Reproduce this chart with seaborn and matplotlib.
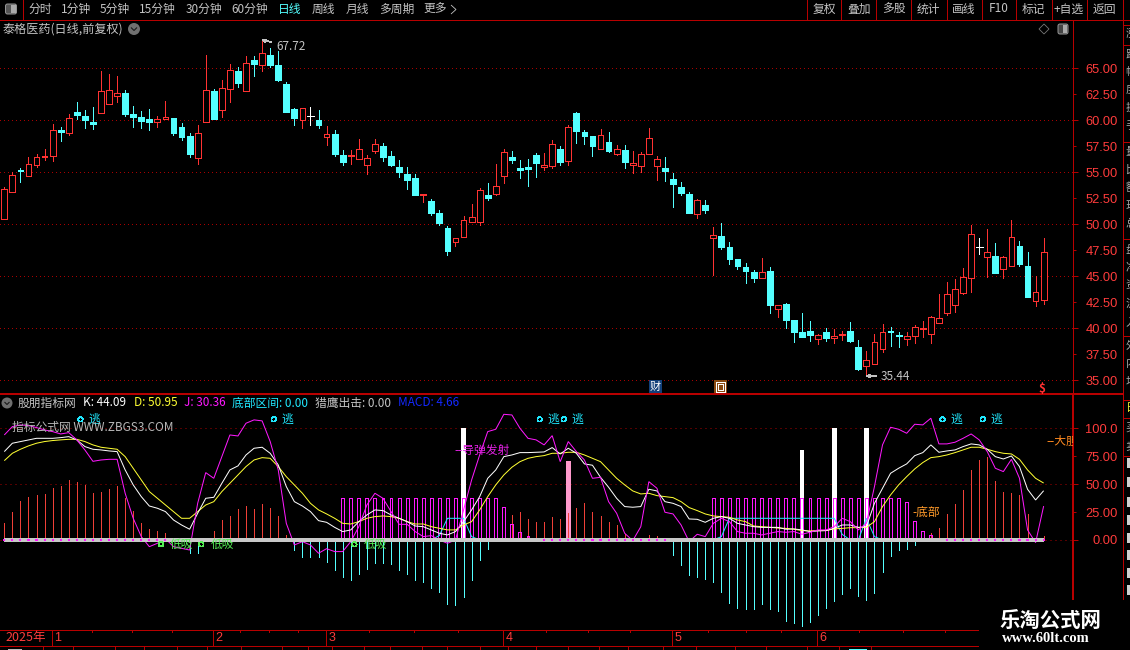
import matplotlib
matplotlib.use("Agg")
import matplotlib.pyplot as plt
from matplotlib.patches import Rectangle, FancyBboxPatch, Circle, Polygon
import numpy as np
import seaborn as sns

# ------------------------------------------------------------------ data
opens = [50.54,53.14,55.2,54.68,55.74,56.44,56.6,59.07,58.81,60.8,60.42,59.84,60.74,61.6,62.37,62.63,60.61,60.32,60.16,59.87,
         60.1,60.22,59.36,58.49,56.41,59.87,62.82,61.03,63.04,64.74,62.85,65.8,65.35,66.28,65.32,63.49,61.09,60.0,60.38,60.03,
         58.43,58.69,56.67,56.54,56.31,55.74,57.08,57.53,56.57,55.51,54.84,54.45,52.85,52.24,51.09,49.65,48.33,48.81,50.26,50.26,
         52.82,52.95,54.68,56.47,55.42,55.51,56.67,55.51,55.64,57.24,56.12,60.71,58.88,58.49,57.28,57.92,56.79,57.15,55.67,55.64,
         56.73,55.64,55.42,54.36,53.59,52.92,51.03,51.86,48.72,48.88,47.82,46.67,45.9,45.42,44.81,45.51,41.83,42.34,40.8,39.65,
         39.74,39.01,39.65,39.04,39.33,39.74,38.21,36.35,36.54,37.98,39.74,39.36,39.01,39.23,39.94,39.49,40.54,41.51,42.28,43.43,
         44.87,47.85,46.89,46.96,45.74,46.03,47.92,45.99,42.66,42.76]
closes = [53.37,54.74,55.13,55.77,56.44,56.57,59.04,58.91,60.19,60.51,60.06,59.68,62.79,62.88,62.6,60.61,60.32,59.97,59.84,60.1,
          60.32,58.78,58.43,56.76,58.75,62.88,60.13,63.08,64.81,63.59,65.48,65.42,66.44,65.32,63.88,60.8,60.22,61.15,60.38,59.55,
          58.65,56.76,55.99,56.63,57.21,56.35,57.69,56.51,55.71,55.03,54.26,52.82,52.92,51.09,50.13,47.44,48.65,50.38,50.67,53.27,
          52.56,53.65,56.92,56.19,55.22,55.32,55.9,55.67,57.69,55.99,59.33,58.97,58.49,57.53,58.56,57.05,57.21,55.99,55.87,56.73,
          58.27,56.25,55.13,53.88,52.98,51.09,52.31,51.38,48.97,47.82,46.67,45.99,45.51,44.84,45.38,42.24,42.21,40.8,39.65,39.17,
          39.36,39.33,39.07,39.23,39.42,38.78,36.09,36.92,38.65,39.62,39.65,39.26,39.23,40.13,40.0,41.06,40.96,43.27,43.75,44.9,
          49.04,47.85,47.31,45.32,46.83,48.75,46.19,43.01,43.46,47.31]
highs = [53.62,55.0,55.45,56.44,56.76,57.24,59.62,59.36,60.61,61.76,61.0,61.28,64.74,64.46,64.26,62.92,61.35,60.87,61.09,60.42,
         61.86,60.22,59.71,58.75,59.55,66.28,63.01,63.88,65.42,65.13,66.19,66.19,67.72,66.96,66.67,63.72,61.19,61.15,61.28,61.0,
         59.46,59.07,57.15,57.15,58.17,56.67,58.17,57.79,57.02,56.19,55.51,54.84,52.92,52.44,51.38,49.84,48.65,50.8,51.96,53.46,
         53.97,55.8,57.21,57.05,56.19,56.28,56.83,56.86,58.11,57.53,59.52,60.8,59.07,58.49,59.17,58.88,57.63,57.63,57.05,56.96,
         59.26,56.57,56.47,54.94,54.07,53.11,52.4,52.34,49.74,50.13,48.3,46.67,46.28,45.61,46.76,45.9,42.21,42.44,40.8,41.47,
         40.71,39.46,40.03,39.94,39.74,40.61,38.88,37.82,39.46,40.42,40.13,39.65,39.65,40.32,40.71,41.19,43.3,44.46,44.74,45.8,
         49.94,48.69,49.55,48.21,46.96,50.42,48.4,47.34,45.03,48.69]
lows = [50.54,53.14,54.07,54.62,55.55,56.19,56.09,58.01,58.59,60.13,59.26,59.17,60.74,61.6,61.76,60.42,59.36,59.26,59.07,59.36,
        60.1,58.59,58.11,56.5,55.8,59.87,60.13,60.32,61.76,63.21,62.85,64.26,64.74,65.16,63.78,60.8,59.55,59.26,59.55,59.26,
        57.63,56.57,55.71,55.8,56.31,54.84,56.89,56.09,55.61,54.58,53.4,52.82,52.18,50.9,49.94,47.05,47.92,48.81,50.26,49.97,
        52.34,52.82,53.97,55.9,54.45,53.69,54.55,55.22,55.42,55.71,55.71,57.82,57.72,56.57,57.28,56.96,56.67,55.42,54.97,55.03,
        56.73,54.26,54.17,51.67,52.82,51.09,50.61,51.09,45.13,47.63,46.19,45.71,44.36,44.46,44.81,41.47,41.09,40.03,38.69,39.17,
        38.78,38.49,38.78,38.59,38.88,38.69,35.99,35.44,36.54,37.72,38.3,38.21,38.4,38.59,39.17,38.59,40.54,41.28,41.57,43.3,
        43.49,47.15,44.94,45.32,44.87,46.03,45.99,43.01,42.15,42.34]

k_values = [79.1,86.6,88.1,89.6,91.0,91.0,91.0,91.6,92.5,89.6,83.6,81.2,80.6,79.7,79.1,62.7,49.3,38.8,30.4,28.4,
            25.4,17.9,13.4,9.6,23.9,37.3,38.2,50.7,62.7,66.3,76.1,82.1,83.0,77.6,67.2,47.8,34.3,30.4,25.4,17.3,
            15.8,11.3,7.5,9.0,16.4,22.4,26.9,26.3,22.4,19.4,16.4,12.5,11.9,9.0,6.0,4.5,7.5,16.4,26.9,38.8,
            55.2,62.7,74.6,76.1,78.2,78.2,78.5,78.8,82.7,77.0,82.1,77.6,68.1,66.9,56.1,47.2,37.3,29.9,29.3,29.9,
            45.4,43.9,34.3,32.8,29.9,18.8,18.5,15.8,19.4,20.9,19.4,14.9,13.4,11.9,11.3,11.3,11.3,9.6,9.9,9.0,
            7.5,8.1,8.4,10.4,13.4,13.4,11.3,11.9,32.8,46.3,59.7,64.2,68.1,75.5,78.2,85.1,78.5,79.7,80.6,83.6,
            86.0,85.1,81.2,74.6,72.5,75.2,65.7,45.4,35.8,44.09]
d_values = [71.0,77.6,81.2,84.2,86.6,88.1,89.0,89.6,90.1,90.1,88.1,85.1,83.0,82.1,81.2,74.6,64.2,53.7,43.3,37.3,
            31.3,25.4,19.4,19.4,25.4,31.3,34.3,43.3,50.7,58.2,65.7,71.6,73.7,73.1,65.7,56.7,49.3,41.8,32.8,26.9,
            23.3,19.4,14.9,14.3,16.4,19.4,20.9,21.5,20.9,19.4,16.4,14.3,14.3,11.9,10.4,9.0,9.0,13.4,16.4,26.9,
            38.8,49.3,58.2,65.1,70.1,73.1,74.6,75.5,77.6,77.6,78.5,78.5,76.1,73.1,70.1,62.7,55.2,49.3,43.9,41.2,
            41.8,39.7,38.8,37.9,34.3,29.0,26.3,23.3,21.5,20.9,20.3,17.9,16.4,12.5,11.9,11.3,10.7,10.4,9.6,8.4,
            8.1,8.4,8.4,9.9,10.4,11.0,11.0,11.3,16.4,29.9,40.3,49.3,56.7,63.6,69.3,73.7,74.6,76.1,78.2,80.6,
            83.0,83.0,81.2,79.1,77.6,77.0,72.2,62.7,55.2,50.95]
j_values = [94.0,101.5,103.0,102.4,100.6,98.5,97.0,94.9,96.1,89.6,80.6,70.4,71.6,72.2,72.2,41.8,19.4,3.0,-6.0,-3.0,
            1.2,-6.0,-7.5,-9.0,32.8,60.3,55.2,74.6,94.0,93.1,104.5,107.5,106.6,88.1,62.7,14.9,-4.5,-1.5,-4.5,-11.9,
            -7.8,-10.4,-10.4,-1.5,11.9,31.3,41.8,37.3,25.4,14.0,14.0,7.5,3.0,3.9,0.0,-3.0,0.0,26.9,53.7,76.1,
            97.0,99.1,112.5,111.9,100.0,91.0,89.6,85.1,93.4,70.1,88.1,79.1,71.6,55.2,56.1,34.3,23.9,6.0,-0.6,11.9,
            52.2,46.3,24.8,23.3,13.4,-1.5,5.1,3.0,14.9,19.4,16.4,7.5,6.0,6.0,4.5,6.0,7.5,6.9,7.5,5.1,
            6.9,9.0,9.0,11.9,19.4,16.4,9.0,14.9,47.8,85.1,100.9,99.1,95.5,103.6,103.0,109.0,86.0,86.0,87.5,91.0,
            94.9,89.6,79.1,64.2,61.2,72.2,55.2,9.0,-2.4,30.36]
macd_sticks = [14.9,25.1,34.9,38.5,40.3,41.2,46.6,48.4,53.7,51.9,49.3,42.1,43.0,45.7,48.4,37.6,26.0,15.2,9.9,8.1,
               6.3,0.5,-0.5,-11.3,-11.3,0.5,8.1,17.9,21.5,27.8,30.4,27.8,32.2,28.7,21.5,4.5,-9.0,-14.9,-14.9,-14.9,
               -19.7,-26.9,-32.8,-35.8,-30.4,-26.0,-20.6,-20.6,-21.5,-26.9,-30.4,-35.8,-37.6,-43.0,-46.6,-57.3,-58.2,-51.0,-35.8,-17.9,
               -8.1,-0.5,0.5,22.4,25.1,18.8,16.1,16.1,20.6,18.8,23.9,28.7,33.1,25.1,21.5,16.1,13.4,5.4,0.0,0.0,
               4.5,3.6,0.3,-13.4,-22.4,-31.3,-33.1,-34.9,-37.6,-46.6,-56.4,-60.9,-61.8,-61.8,-57.3,-61.8,-63.6,-72.5,-74.3,-77.0,
               -73.4,-67.2,-60.9,-54.6,-48.4,-43.0,-50.1,-53.7,-47.5,-28.7,-14.3,-9.0,-8.1,-4.5,0.0,6.0,10.7,23.3,32.2,44.8,
               62.7,71.6,74.3,52.8,43.0,42.1,40.3,23.3,0.0,3.6]
box_days = [42,43,44,45,46,47,48,49,50,51,52,53,54,55,56,57,58,59,60,61,62,63,64,65,66,
            88,89,90,91,92,93,94,95,96,97,98,99,100,101,102,103,104,105,106,107,108,109,110,111,112,113,114,115,116]
box_tops = [37.3,37.3,37.3,37.3,37.3,37.3,37.3,37.3,37.3,37.3,37.3,37.3,37.3,37.3,37.3,37.3,37.3,37.3,37.3,37.3,29.3,14.3,7.2,3.6,1.8,
            37.3,37.3,37.3,37.3,37.3,37.3,37.3,37.3,37.3,37.3,37.3,37.3,37.3,37.3,37.3,37.3,37.3,37.3,37.3,37.3,37.3,37.3,37.3,37.3,33.7,16.7,7.8,4.2,1.5]
dash_days = [0,1,2,3,4,5,6,7,8,9,10,11,12,13,14,15,16,17,18,19,20,67,68,69,70,71,72,73,74,75,76,77,78,79,80,81,82,
             117,118,119,120,121,122,123,124,125,126,127,128,129]
white_days = [57,99,103,107]
white_tops = [100.3,80.6,100.0,100.0]
pink_days = [70]
pink_tops = [70.7]
zone_days = [53,54,55,56,57,58,59,88,89,90,91,92,93,94,95,96,97,98,99,100,101,102,103,104,105,106,107,108,109]
zone_vals = [0.0,4.0,19.4,19.4,19.4,3.0,0.0,0.0,3.0,19.4,19.4,19.4,19.4,19.4,19.4,19.4,19.4,19.4,19.4,19.4,19.4,19.4,19.4,5.0,0.0,0.0,19.4,3.0,0.0]
escape_days = [9,33,66,69,116,121]
buy_days = [19,24,43]
price_ticks = [35,37.5,40,42.5,45,47.5,50,52.5,55,57.5,60,62.5,65]
kdj_ticks = [0,25,50,75,100]
month_labels = ["1","2","3","4","5","6"]
month_days = [6,26,40,62,83,101]
week_days = [10.85,15.9,20.85,29.3,32.9,36.4,45.3,50.9,56.3,67.2,72.4,77.7,87.4,92,96.4,106.1,111.5,116.7]
left_menu = [("分时",28,"#c4c4c4"),("1分钟",61,"#c4c4c4"),("5分钟",100,"#c4c4c4"),("15分钟",139,"#c4c4c4"),("30分钟",186,"#c4c4c4"),
             ("60分钟",231,"#c4c4c4"),("日线",278,"#54ffff"),("周线",312,"#c4c4c4"),("月线",346,"#c4c4c4"),("多周期",379,"#c4c4c4"),("更多",423,"#c4c4c4")]
right_menu = [("复权",813),("叠加",847),("多股",882),("统计",917),("画线",952),("F10",989),("标记",1022),("+自选",1054),("返回",1093)]

# ------------------------------------------------------------------ style
W, H = 1130, 650
sns.set_theme(style="dark", rc={
    "figure.facecolor": "black", "axes.facecolor": "black", "savefig.facecolor": "black",
    "lines.antialiased": False, "patch.antialiased": False, "axes.grid": False,
    "lines.solid_capstyle": "butt", "lines.solid_joinstyle": "miter",
})
plt.rcParams["font.family"] = ["Noto Sans CJK SC", "DejaVu Sans"]

RED = "#ff3232"; CYAN = "#54ffff"; AXIS = "#b80000"; GRID = "#a80000"; MAG = "#ff19ff"; GRAY = "#c4c4c4"
THIN = 0.7
CURVE = dict(linewidth=0.72, antialiased=True, ax=None, estimator=None, legend=False)
DOT = (0, (1, 4))
fig = plt.figure(figsize=(W / 100, H / 100), dpi=100)

def add_axes(l, t, r, b):
    return fig.add_axes([l / W, 1 - b / H, (r - l) / W, (b - t) / H])

X0, STEP = 4.3, 8.057
XLIM = (-X0 / STEP, (1073 - X0) / STEP)
days = np.arange(len(closes))
o, c, h, l = map(np.array, (opens, closes, highs, lows))

# ------------------------------------------------------------------ price panel
ax = add_axes(0, 20, 1073, 394)
ax.set_xlim(*XLIM); ax.set_ylim(33.69, 69.65)
for v in price_ticks:
    if v % 5 == 0:
        ax.axhline(v, color=GRID, lw=THIN, ls=DOT, zorder=1)
up = c > o; down = c < o; doji = c == o
ax.vlines(days[up], l[up], h[up], color=RED, lw=THIN, zorder=2, antialiased=False)
ax.vlines(days[down], l[down], h[down], color=CYAN, lw=THIN, zorder=2, antialiased=False)
ax.vlines(days[doji], l[doji], h[doji], color="white", lw=THIN, zorder=2, antialiased=False)
ax.bar(days[up], (c - o)[up], bottom=o[up], width=0.72, facecolor="black", edgecolor=RED, linewidth=THIN, zorder=3)
ax.bar(days[down], (c - o)[down], bottom=o[down], width=0.72, facecolor=CYAN, edgecolor=CYAN, linewidth=THIN, zorder=3)
ax.hlines(o[doji], days[doji] - 0.42, days[doji] + 0.42, color="white", lw=THIN, zorder=3, antialiased=False)
hi = int(np.argmax(h)); lo = int(np.argmin(l))
ax.annotate(f"{h[hi]:.2f}", xy=(hi, h[hi]), xytext=(14, -6), textcoords="offset pixels", color=GRAY, fontsize=8.5, va="center",
            arrowprops=dict(arrowstyle="->", color=GRAY, lw=0.6, shrinkA=1, shrinkB=0, mutation_scale=5), zorder=6)
ax.annotate(f"{l[lo]:.2f}", xy=(lo, l[lo]), xytext=(14, -1), textcoords="offset pixels", color=GRAY, fontsize=8.5, va="center",
            arrowprops=dict(arrowstyle="->", color=GRAY, lw=0.6, shrinkA=1, shrinkB=0, mutation_scale=5), zorder=6)
ax.set_xticks([])
ax.set_yticks(price_ticks)
ax.set_yticklabels([f"{v:.2f}" for v in price_ticks])

# ------------------------------------------------------------------ indicator panel
ax2 = add_axes(0, 394.3, 1073, 630)
ax2.set_xlim(*XLIM); ax2.set_ylim(-80.6, 130.4)
CURVE["ax"] = ax2
for v in (0, 50, 100):
    ax2.axhline(v, color=GRID, lw=THIN, ls=DOT, zorder=1)
ax2.bar(white_days, white_tops, width=0.58, color="white", linewidth=0, zorder=2)
ax2.bar(pink_days, pink_tops, width=0.58, color="#ff99cc", linewidth=0, zorder=2)
m = np.array(macd_sticks)
ax2.vlines(days[m > 0], 0, m[m > 0], color="#f04038", lw=THIN, zorder=2.5, antialiased=False)
ax2.vlines(days[m < 0], m[m < 0], 0, color=CYAN, lw=THIN, zorder=2.5, antialiased=False)
ax2.bar(box_days, box_tops, width=0.36, fill=False, edgecolor=MAG, linewidth=THIN, zorder=3)
sns.lineplot(x=zone_days[:7], y=zone_vals[:7], color="#20e8ff", zorder=3.5, **CURVE)
sns.lineplot(x=zone_days[7:], y=zone_vals[7:], color="#20e8ff", zorder=3.5, **CURVE)
sns.lineplot(x=days, y=d_values, color="#ffff33", zorder=4, **CURVE)
sns.lineplot(x=days, y=k_values, color="white", zorder=4.1, **CURVE)
sns.lineplot(x=days, y=j_values, color=MAG, zorder=4.2, **CURVE)
for line in ax2.get_lines():
    line.set_linewidth(0.72)
    line.set_antialiased(True)
ax2.hlines(0, 0, days[-1], color="#c8c8c8", lw=1.5, zorder=5, antialiased=False)
ax2.hlines([0] * len(dash_days), np.array(dash_days) - 0.13, np.array(dash_days) + 0.13, color=MAG, lw=1.44, zorder=6, antialiased=False)

sns.scatterplot(x=[d + 0.45 for d in escape_days], y=[108] * len(escape_days), s=11, facecolor="none", edgecolor="#20e8ff",
                linewidth=0.5, ax=ax2, legend=False, zorder=6, clip_on=False)
sns.scatterplot(x=[d + 0.45 for d in buy_days], y=[-3.9] * len(buy_days), s=11, facecolor="none", edgecolor="#55ee55",
                linewidth=0.5, ax=ax2, legend=False, zorder=6)
for d in escape_days:
    ax2.annotate("逃", xy=(d, 108), xytext=(11.5, 0), textcoords="offset pixels", color="#20e8ff", fontsize=8.5, va="center", zorder=6)
for d in buy_days:
    ax2.annotate("低吸", xy=(d, -3.9), xytext=(12.6, 0), textcoords="offset pixels", color="#55ee55", fontsize=8.5, va="center", zorder=6)
ax2.annotate("--导弹发射", xy=(57, 80.6), xytext=(-9, 0), textcoords="offset pixels", color="#e020e0", fontsize=8.5, va="center", zorder=6)
ax2.annotate("-底部", xy=(113, 24.5), xytext=(-2, 0), textcoords="offset pixels", color="#ff9a2a", fontsize=8.5, va="center", zorder=6)
ax2.annotate("--大胆", xy=(129, 88.7), xytext=(3, 0), textcoords="offset pixels", color="#ff8a20", fontsize=8.5, va="center",
             zorder=6, clip_on=True)
ax2.set_xlabel(""); ax2.set_ylabel("")
ax2.set_xticks([])
ax2.set_yticks(kdj_ticks)
ax2.set_yticklabels([f"{v:.2f}" if v < 100 else "100.0" for v in kdj_ticks])

for a, long_vals, color_lw in ((ax, {35, 40, 45, 50, 55, 60, 65}, THIN), (ax2, {0, 50, 100}, 1.44)):
    for s in ("left", "top", "bottom"):
        a.spines[s].set_visible(False)
    a.spines["right"].set_visible(True)
    a.spines["right"].set_color(AXIS)
    a.spines["right"].set_linewidth(color_lw)
    a.yaxis.tick_right()
    a.tick_params(axis="y", right=True, length=3.6, width=THIN, color=AXIS, labelcolor="#ff3c3c", pad=28.6, labelsize=9.3)
    for t, v in zip(a.yaxis.get_major_ticks(), a.get_yticks()):
        if v not in long_vals:
            t.tick2line.set_markersize(1.8)
        t.label2.set_ha("right")
        t.label2.set_fontfamily("Liberation Sans")

# ------------------------------------------------------------------ date band
ax3 = add_axes(0, 630.3, 978, 646.3)
ax3.set_xlim(XLIM[0], (978 - X0) / STEP); ax3.set_ylim(0, 1)
for s in ("left", "right"):
    ax3.spines[s].set_visible(False)
for s in ("top", "bottom"):
    ax3.spines[s].set_color(AXIS); ax3.spines[s].set_linewidth(THIN); ax3.spines[s].set_visible(True)
ax3.set_xticks([]); ax3.set_yticks([])
for d, lab in zip(month_days, month_labels):
    ax3.axvline(d - 0.1, color=AXIS, lw=THIN, antialiased=False)
    ax3.annotate(lab, xy=(d - 0.1, 0.5), xytext=(2.5, 0), textcoords="offset pixels", color="#ff3c3c", fontsize=9, va="center",
                 family="Liberation Sans")
ax3.vlines(week_days, 0.87, 1, color=AXIS, lw=THIN, antialiased=False)

# ------------------------------------------------------------------ screen chrome, in pixels
ov = fig.add_axes([0, 0, 1, 1], zorder=20)
ov.set_xlim(0, W); ov.set_ylim(H, 0); ov.axis("off"); ov.patch.set_alpha(0)

def txt(x, y, s, color=GRAY, size=8.5, ha="left", **kw):
    ov.text(x, y, s, color=color, fontsize=size, ha=ha, va="center", **kw)

txt(5, 638, "2025年", color="#ff3c3c", size=9)
ov.hlines(19.5, 0, W, color=AXIS, lw=THIN, antialiased=False)
ov.vlines(23, 0, 19.5, color=AXIS, lw=THIN, antialiased=False)
ov.add_patch(FancyBboxPatch((5.5, 4), 11, 10, boxstyle="round,pad=0,rounding_size=2", fc="#555555", ec="#999999", lw=THIN, antialiased=True))
ov.add_patch(Rectangle((11, 5), 5, 8, fc="#aaaaaa", ec="none"))
for s, x, col in left_menu:
    txt(x, 9, s, color=col)
ov.plot([451, 456, 451], [5, 9.5, 14], color=GRAY, lw=0.6, antialiased=True)
for x in (807, 841, 876, 911, 946.5, 981.5, 1016, 1052, 1086.6, 1123):
    ov.vlines(x, 0, 19.5, color=AXIS, lw=THIN, antialiased=False)
for s, x in right_menu:
    txt(x, 9, s)

txt(2.5, 29, "泰格医药(日线,前复权)", size=8.7)
ov.add_patch(Circle((134, 29), 6, fc="#707070", ec="none", antialiased=True))
ov.plot([131, 134, 137], [27.5, 30.5, 27.5], color="#1a1a1a", lw=0.8, antialiased=True)
ov.add_patch(Polygon([(1044, 24), (1049, 29), (1044, 34), (1039, 29)], closed=True, fill=False, ec="#777777", lw=0.6, antialiased=True))
ov.add_patch(FancyBboxPatch((1058, 24), 10, 10, boxstyle="round,pad=0,rounding_size=2", fc="#444444", ec="#999999", lw=THIN, antialiased=True))
ov.add_patch(Rectangle((1063, 25), 4, 8, fc="#aaaaaa", ec="none"))

# event badges
ov.add_patch(Rectangle((649, 380), 13, 13.5, fc="#12407a", ec="none"))
txt(655.5, 387, "财", color="white", size=8, ha="center")
ov.add_patch(Rectangle((714, 380), 13, 13.5, fc="#8a4a10", ec="none"))
ov.add_patch(Rectangle((716, 382), 9, 9.5, fc="none", ec="white", lw=THIN))
ov.add_patch(Rectangle((718, 384), 5, 5.5, fc="#8a4a10", ec="white", lw=THIN))
txt(1042, 388.5, "$", color=RED, size=8.5, ha="center", fontweight="bold")

# panel separators
ov.hlines(394.4, 0, 1123, color=AXIS, lw=1.44, antialiased=False)
ov.vlines(1123, 0, 599, color=AXIS, lw=THIN, antialiased=False)
for y in (25, 45, 142, 239, 336, 400, 418, 456):
    ov.hlines(y, 1123, W, color=AXIS, lw=THIN, antialiased=False)
# header of the indicator
ov.add_patch(Circle((7, 403), 5.5, fc="#707070", ec="none", antialiased=True))
ov.plot([4.5, 7, 9.5], [402, 404.5, 402], color="#1a1a1a", lw=0.8, antialiased=True)
txt(18, 403, "股朋指标网")
txt(83, 403, "K: 44.09", color="white")
txt(134, 403, "D: 50.95", color="#ffff33")
txt(184, 403, "J: 30.36", color=MAG)
txt(232, 403, "底部区间: 0.00", color="#20e8ff")
txt(315, 403, "猎鹰出击: 0.00")
txt(398, 403, "MACD: 4.66", color="#1428ff")
txt(12.5, 427, "指标公式网 WWW.ZBGS3.COM", color="#b8b8b8")

# clipped side column
side = [(34, "涨"), (54, "跌"), (72, "幅"), (90, "度"), (108, "换"), (126, "手"), (152, "量"), (170, "比"), (188, "额"), (206, "现"),
        (224, "总"), (250, "盘"), (268, "净"), (286, "资"), (304, "流"), (322, "入"), (346, "外"), (364, "内"), (382, "均"), (428, "买"), (446, "卖")]
for y, s in side:
    txt(1125.5, y, s, color="#a8a8a8", size=8, clip_on=True)
txt(1125.5, 408, "日", color="#eeee33", size=8, clip_on=True)
for y in (463, 482, 502, 520, 538, 555, 573, 590):
    ov.add_patch(Rectangle((1127, y - 5), 3, 10, fc="#d0d0d0", ec="none"))

# date band lower ticks and the next row cut by the image edge
low_ticks = [42.7,73.3,115.3,144.3,177.3,207.3,241.3,282.3,308.3,332.3,364.3,390.3,422.3,447.3,480.3,
             508.3,536.3,568.3,599.3,628.3,663.3,696.3,735.3,766.3,807.3,839.3,871.3]
ov.vlines(low_ticks, 646, 650, color=AXIS, lw=THIN, antialiased=False)
ov.hlines(649, 8, 21, color="#bbbbbb", lw=THIN, antialiased=False)
ov.hlines(649, 849, 866, color=CYAN, lw=THIN, antialiased=False)

# site stamp
ov.add_patch(Rectangle((978.5, 600), W - 978.5, 50, fc="black", ec="none"))
txt(1050, 620, "乐淘公式网", color="white", size=14.7, ha="center", fontweight="bold")
txt(1046, 639, "www.60lt.com", color="white", size=10.5, ha="center", fontweight="bold", family="Liberation Serif")

fig.savefig("out.png", dpi=100)
